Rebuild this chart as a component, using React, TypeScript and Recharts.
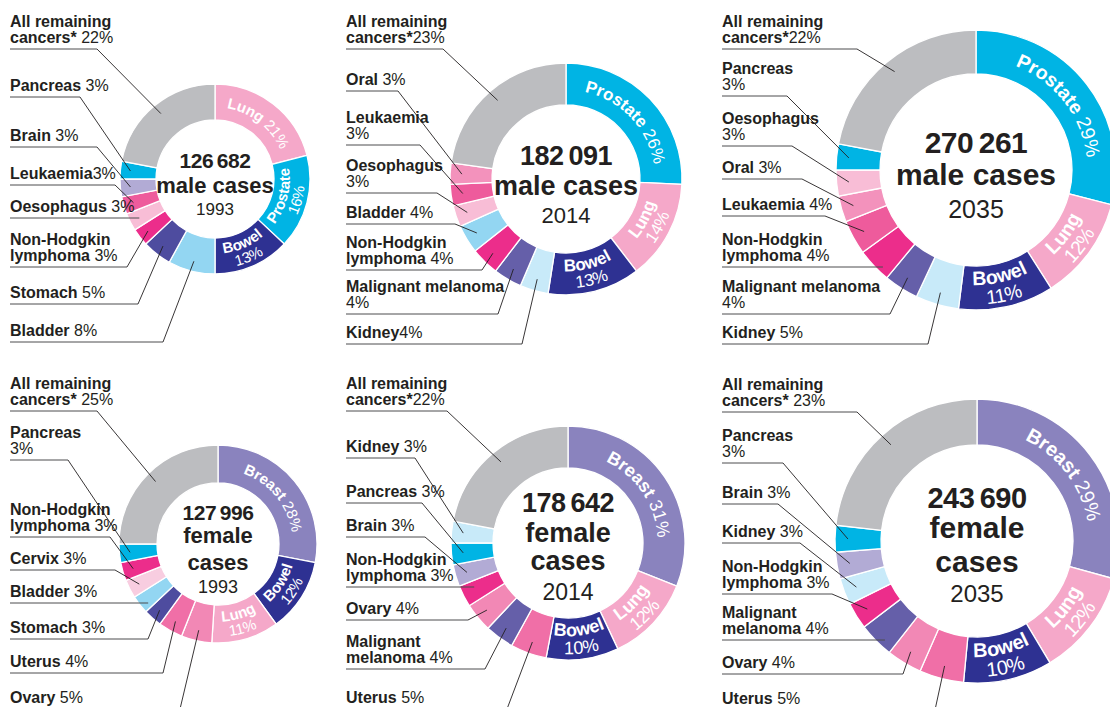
import React from "react";
import { Cell, Pie, PieChart } from "recharts";

const W = 1110;
const H = 707;
const FONT = "'Liberation Sans', Arial, Helvetica, sans-serif";
const INK = "#231f20";
const RAD = Math.PI / 180;

// Share of new cases (%) by site, clockwise from 12 o'clock
const male1993Sites = ["Lung", "Prostate", "Bowel", "Bladder", "Stomach", "Non-Hodgkin lymphoma", "Oesophagus", "Leukaemia", "Brain", "Pancreas", "All remaining cancers*"];
const male1993Share = [21, 16, 13, 8, 5, 3, 3, 3, 3, 3, 22];

const male2014Sites = ["Prostate", "Lung", "Bowel", "Kidney", "Malignant melanoma", "Non-Hodgkin lymphoma", "Bladder", "Oesophagus", "Leukaemia", "Oral", "All remaining cancers*"];
const male2014Share = [26, 14, 13, 4, 4, 4, 4, 3, 3, 3, 23];

const male2035Sites = ["Prostate", "Lung", "Bowel", "Kidney", "Malignant melanoma", "Non-Hodgkin lymphoma", "Leukaemia", "Oral", "Oesophagus", "Pancreas", "All remaining cancers*"];
const male2035Share = [29, 12, 11, 5, 4, 4, 4, 3, 3, 3, 22];

const female1993Sites = ["Breast", "Bowel", "Lung", "Ovary", "Uterus", "Stomach", "Bladder", "Cervix", "Non-Hodgkin lymphoma", "Pancreas", "All remaining cancers*"];
const female1993Share = [28, 12, 11, 5, 4, 3, 3, 3, 3, 3, 25];

const female2014Sites = ["Breast", "Lung", "Bowel", "Uterus", "Malignant melanoma", "Ovary", "Non-Hodgkin lymphoma", "Brain", "Pancreas", "Kidney", "All remaining cancers*"];
const female2014Share = [31, 12, 10, 5, 4, 4, 3, 3, 3, 3, 22];

const female2035Sites = ["Breast", "Lung", "Bowel", "Uterus", "Ovary", "Malignant melanoma", "Non-Hodgkin lymphoma", "Kidney", "Brain", "Pancreas", "All remaining cancers*"];
const female2035Share = [29, 12, 10, 5, 4, 4, 3, 3, 3, 3, 23];

const caseTotals = [126682, 182091, 270261, 127996, 178642, 243690];
const years = [1993, 2014, 2035, 1993, 2014, 2035];

const siteColours: Record<string, string> = {
  Lung: "#f5a8c9",
  Prostate: "#00b4e4",
  Bowel: "#2e3192",
  Bladder: "#93d6f2",
  Stomach: "#4e4c9f",
  "Non-Hodgkin lymphoma": "#ec2d8b",
  Oesophagus: "#f8bdd6",
  Leukaemia: "#ee5b9c",
  Brain: "#b2abd5",
  Pancreas: "#00b4e4",
  Kidney: "#c8eaf9",
  "Malignant melanoma": "#655fa9",
  Oral: "#f392bc",
  Breast: "#8a83be",
  Ovary: "#f288b5",
  Uterus: "#f06fa7",
  Cervix: "#f8cde0",
  "All remaining cancers*": "#bcbdc0",
};

interface OutLabel {
  site: string;
  lines: string[];
  pctOwnLine?: boolean;
  tight?: boolean; // no space before the percentage
  y: number;
  endX: number | null;
}

interface InLabel {
  site: string;
  name: string;
  dir: "cw" | "ccw";
  twoLine?: boolean;
}

interface Panel {
  id: string;
  sites: string[];
  share: number[];
  centre: string[];
  centreFs: number[];
  centreBase: number[];
  cx: number;
  cy: number;
  R: number;
  r: number;
  labelX: number;
  innerFs: number;
  inside: InLabel[];
  outside: OutLabel[];
}

const fmt = (n: number) => {
  const s = String(n);
  return s.slice(0, s.length - 3) + "\u2009" + s.slice(-3);
};

const panels: Panel[] = [
  {
    id: "m93",
    sites: male1993Sites,
    share: male1993Share,
    centre: [fmt(caseTotals[0]), "male cases", String(years[0])],
    centreFs: [21, 22, 17],
    centreBase: [168, 193, 215],
    cx: 215, cy: 179, R: 95, r: 59, labelX: 10, innerFs: 15,
    inside: [
      { site: "Lung", name: "Lung", dir: "cw" },
      { site: "Prostate", name: "Prostate", dir: "ccw", twoLine: true },
      { site: "Bowel", name: "Bowel", dir: "ccw", twoLine: true },
    ],
    outside: [
      { site: "All remaining cancers*", lines: ["All remaining", "cancers*"], y: 22, endX: 97 },
      { site: "Pancreas", lines: ["Pancreas"], y: 86, endX: 80 },
      { site: "Brain", lines: ["Brain"], y: 136, endX: 97 },
      { site: "Leukaemia", lines: ["Leukaemia"], tight: true, y: 174, endX: 115 },
      { site: "Oesophagus", lines: ["Oesophagus"], y: 207, endX: null },
      { site: "Non-Hodgkin lymphoma", lines: ["Non-Hodgkin", "lymphoma"], y: 240, endX: 127 },
      { site: "Stomach", lines: ["Stomach"], y: 293, endX: 138 },
      { site: "Bladder", lines: ["Bladder"], y: 331, endX: 163 },
    ],
  },
  {
    id: "m14",
    sites: male2014Sites,
    share: male2014Share,
    centre: [fmt(caseTotals[1]), "male cases", String(years[1])],
    centreFs: [27, 27, 22],
    centreBase: [165, 195, 223],
    cx: 566, cy: 179, R: 116, r: 74, labelX: 346, innerFs: 17,
    inside: [
      { site: "Prostate", name: "Prostate", dir: "cw" },
      { site: "Lung", name: "Lung", dir: "ccw", twoLine: true },
      { site: "Bowel", name: "Bowel", dir: "ccw", twoLine: true },
    ],
    outside: [
      { site: "All remaining cancers*", lines: ["All remaining", "cancers*"], tight: true, y: 22, endX: 443 },
      { site: "Oral", lines: ["Oral"], y: 80, endX: 398 },
      { site: "Leukaemia", lines: ["Leukaemia"], pctOwnLine: true, y: 118, endX: 420 },
      { site: "Oesophagus", lines: ["Oesophagus"], pctOwnLine: true, y: 166, endX: 437 },
      { site: "Bladder", lines: ["Bladder"], y: 213, endX: 455 },
      { site: "Non-Hodgkin lymphoma", lines: ["Non-Hodgkin", "lymphoma"], y: 243, endX: 482 },
      { site: "Malignant melanoma", lines: ["Malignant melanoma"], pctOwnLine: true, y: 287, endX: 498 },
      { site: "Kidney", lines: ["Kidney"], tight: true, y: 333, endX: 522 },
    ],
  },
  {
    id: "m35",
    sites: male2035Sites,
    share: male2035Share,
    centre: [fmt(caseTotals[2]), "male cases", String(years[2])],
    centreFs: [30, 30, 25],
    centreBase: [153, 185, 218],
    cx: 976, cy: 170, R: 140, r: 96, labelX: 722, innerFs: 19.5,
    inside: [
      { site: "Prostate", name: "Prostate", dir: "cw" },
      { site: "Lung", name: "Lung", dir: "ccw", twoLine: true },
      { site: "Bowel", name: "Bowel", dir: "ccw", twoLine: true },
    ],
    outside: [
      { site: "All remaining cancers*", lines: ["All remaining", "cancers*"], tight: true, y: 22, endX: 857 },
      { site: "Pancreas", lines: ["Pancreas"], pctOwnLine: true, y: 69, endX: 787 },
      { site: "Oesophagus", lines: ["Oesophagus"], pctOwnLine: true, y: 119, endX: 792 },
      { site: "Oral", lines: ["Oral"], y: 168, endX: 802 },
      { site: "Leukaemia", lines: ["Leukaemia"], y: 205, endX: 825 },
      { site: "Non-Hodgkin lymphoma", lines: ["Non-Hodgkin", "lymphoma"], y: 240, endX: null },
      { site: "Malignant melanoma", lines: ["Malignant melanoma"], pctOwnLine: true, y: 287, endX: 890 },
      { site: "Kidney", lines: ["Kidney"], y: 333, endX: 928 },
    ],
  },
  {
    id: "f93",
    sites: female1993Sites,
    share: female1993Share,
    centre: [fmt(caseTotals[3]), "female", "cases", String(years[3])],
    centreFs: [21, 22, 22, 18],
    centreBase: [520, 543, 570, 593],
    cx: 218, cy: 544, R: 99, r: 61, labelX: 10, innerFs: 15,
    inside: [
      { site: "Breast", name: "Breast", dir: "cw" },
      { site: "Bowel", name: "Bowel", dir: "ccw", twoLine: true },
      { site: "Lung", name: "Lung", dir: "ccw", twoLine: true },
    ],
    outside: [
      { site: "All remaining cancers*", lines: ["All remaining", "cancers*"], y: 384, endX: 97 },
      { site: "Pancreas", lines: ["Pancreas"], pctOwnLine: true, y: 433, endX: 68 },
      { site: "Non-Hodgkin lymphoma", lines: ["Non-Hodgkin", "lymphoma"], y: 510, endX: 110 },
      { site: "Cervix", lines: ["Cervix"], y: 559, endX: 115 },
      { site: "Bladder", lines: ["Bladder"], y: 592, endX: null },
      { site: "Stomach", lines: ["Stomach"], y: 628, endX: 148 },
      { site: "Uterus", lines: ["Uterus"], y: 662, endX: 163 },
      { site: "Ovary", lines: ["Ovary"], y: 698, endX: 180 },
    ],
  },
  {
    id: "f14",
    sites: female2014Sites,
    share: female2014Share,
    centre: [fmt(caseTotals[4]), "female", "cases", String(years[4])],
    centreFs: [27, 27, 27, 23],
    centreBase: [512, 542, 570, 600],
    cx: 568, cy: 543, R: 117, r: 75, labelX: 346, innerFs: 18,
    inside: [
      { site: "Breast", name: "Breast", dir: "cw" },
      { site: "Lung", name: "Lung", dir: "ccw", twoLine: true },
      { site: "Bowel", name: "Bowel", dir: "ccw", twoLine: true },
    ],
    outside: [
      { site: "All remaining cancers*", lines: ["All remaining", "cancers*"], tight: true, y: 384, endX: 447 },
      { site: "Kidney", lines: ["Kidney"], y: 447, endX: 415 },
      { site: "Pancreas", lines: ["Pancreas"], y: 492, endX: 422 },
      { site: "Brain", lines: ["Brain"], y: 526, endX: 425 },
      { site: "Non-Hodgkin lymphoma", lines: ["Non-Hodgkin", "lymphoma"], y: 560, endX: null },
      { site: "Ovary", lines: ["Ovary"], y: 609, endX: 468 },
      { site: "Malignant melanoma", lines: ["Malignant", "melanoma"], y: 642, endX: 485 },
      { site: "Uterus", lines: ["Uterus"], y: 698, endX: 507 },
    ],
  },
  {
    id: "f35",
    sites: female2035Sites,
    share: female2035Share,
    centre: [fmt(caseTotals[5]), "female", "cases", String(years[5])],
    centreFs: [29, 30, 30, 24],
    centreBase: [508, 538, 572, 602],
    cx: 977, cy: 541, R: 142, r: 96, labelX: 722, innerFs: 20,
    inside: [
      { site: "Breast", name: "Breast", dir: "cw" },
      { site: "Lung", name: "Lung", dir: "ccw", twoLine: true },
      { site: "Bowel", name: "Bowel", dir: "ccw", twoLine: true },
    ],
    outside: [
      { site: "All remaining cancers*", lines: ["All remaining", "cancers*"], y: 385, endX: 857 },
      { site: "Pancreas", lines: ["Pancreas"], pctOwnLine: true, y: 436, endX: 783 },
      { site: "Brain", lines: ["Brain"], y: 493, endX: 778 },
      { site: "Kidney", lines: ["Kidney"], y: 532, endX: 800 },
      { site: "Non-Hodgkin lymphoma", lines: ["Non-Hodgkin", "lymphoma"], y: 567, endX: 832 },
      { site: "Malignant melanoma", lines: ["Malignant", "melanoma"], y: 613, endX: null },
      { site: "Ovary", lines: ["Ovary"], y: 663, endX: 903 },
      { site: "Uterus", lines: ["Uterus"], y: 699, endX: 935 },
    ],
  },
];

const pt = (cx: number, cy: number, r: number, deg: number) => ({
  x: cx + r * Math.cos(deg * RAD),
  y: cy - r * Math.sin(deg * RAD),
});

/** Arc path centred on `mid`, running clockwise or anticlockwise, for textPath. */
function arcPath(cx: number, cy: number, r: number, mid: number, dir: "cw" | "ccw") {
  const span = 80;
  const a0 = dir === "cw" ? mid + span : mid - span;
  const a1 = dir === "cw" ? mid - span : mid + span;
  const p0 = pt(cx, cy, r, a0);
  const p1 = pt(cx, cy, r, a1);
  return `M${p0.x},${p0.y} A${r},${r} 0 0 ${dir === "cw" ? 1 : 0} ${p1.x},${p1.y}`;
}

const LINE = 16;
const OUT_FS = 16;

function renderLabel(p: Panel) {
  return (props: any) => {
    const { cx, cy, midAngle, index } = props;
    const site = p.sites[index];
    const value = p.share[index];
    const pct = `${value}%`;
    const parts: React.ReactNode[] = [];

    if (index === 0) {
      parts.push(
        <g key="centre" fontFamily={FONT} fill={INK} textAnchor="middle">
          {p.centre.map((t, i) => (
            <text
              key={i}
              x={cx}
              y={p.centreBase[i]}
              fontSize={p.centreFs[i]}
              fontWeight={i === p.centre.length - 1 ? "normal" : "bold"}
              letterSpacing={i === 0 ? -0.5 : 0}
            >
              {t}
            </text>
          ))}
        </g>
      );
    }

    const ins = p.inside.find((d) => d.site === site);
    if (ins) {
      const fs = p.innerFs;
      const midR = (p.r + p.R) / 2;
      const rows = ins.twoLine ? [[ins.name, ""], ["", pct]] : [[ins.name, " " + pct]];
      parts.push(
        <g key="inside">
          {rows.map((row, i) => {
            let rr: number;
            if (ins.dir === "cw") {
              const c = rows.length === 1 ? midR : midR + (i === 0 ? 1 : -1) * fs * 0.5;
              rr = c - fs * 0.35;
            } else {
              const c = rows.length === 1 ? midR : midR + (i === 0 ? -1 : 1) * fs * 0.5;
              rr = c + fs * 0.35;
            }
            const id = `${p.id}-in-${index}-${i}`;
            return (
              <g key={i}>
                <defs>
                  <path id={id} d={arcPath(cx, cy, rr, midAngle, ins.dir)} />
                </defs>
                <text fill="#ffffff" fontFamily={FONT} fontSize={fs} textAnchor="middle">
                  <textPath href={`#${id}`} startOffset="50%">
                    {row[0] && <tspan fontWeight="bold">{row[0]}</tspan>}
                    {row[1] && <tspan>{row[1]}</tspan>}
                  </textPath>
                </text>
              </g>
            );
          })}
        </g>
      );
    }

    const out = p.outside.find((d) => d.site === site);
    if (out) {
      const sep = out.tight ? "" : " ";
      const rows = out.pctOwnLine
        ? [...out.lines.map((l) => [l, ""]), ["", pct]]
        : out.lines.map((l, i) => [l, i === out.lines.length - 1 ? sep + pct : ""]);
      const ulY = out.y + (rows.length - 1) * LINE + 11;
      const anchor = pt(cx, cy, p.r + 0.72 * (p.R - p.r), midAngle);
      const endX = out.endX ?? anchor.x;
      parts.push(
        <g key="outside" fontFamily={FONT} fontSize={OUT_FS} fill={INK}>
          {rows.map((row, i) => (
            <text key={i} x={p.labelX} y={out.y + i * LINE + 5}>
              {row[0] && <tspan fontWeight="bold">{row[0]}</tspan>}
              {row[1] && <tspan>{row[1]}</tspan>}
            </text>
          ))}
          <line x1={p.labelX} y1={ulY} x2={endX} y2={ulY} stroke="#4d4d4f" strokeWidth={1} />
          {out.endX !== null && (
            <line x1={endX} y1={ulY} x2={anchor.x} y2={anchor.y} stroke={INK} strokeWidth={0.9} />
          )}
        </g>
      );
    }

    return <g key={`${p.id}-lab-${index}`}>{parts}</g>;
  };
}

export default function App() {
  return (
    <div style={{ position: "absolute", left: 0, top: 0, width: W, height: H, background: "#ffffff" }}>
      <PieChart width={W} height={H} margin={{ top: 0, right: 0, bottom: 0, left: 0 }}>
        {panels.map((p) => (
          <Pie
            key={p.id}
            data={p.sites.map((s, i) => ({ name: s, value: p.share[i] }))}
            dataKey="value"
            nameKey="name"
            cx={p.cx}
            cy={p.cy}
            innerRadius={p.r}
            outerRadius={p.R}
            startAngle={90}
            endAngle={-270}
            stroke="#ffffff"
            strokeWidth={1.3}
            isAnimationActive={false}
            labelLine={false}
            label={renderLabel(p)}
          >
            {p.sites.map((s) => (
              <Cell key={s} fill={siteColours[s]} />
            ))}
          </Pie>
        ))}
      </PieChart>
    </div>
  );
}
